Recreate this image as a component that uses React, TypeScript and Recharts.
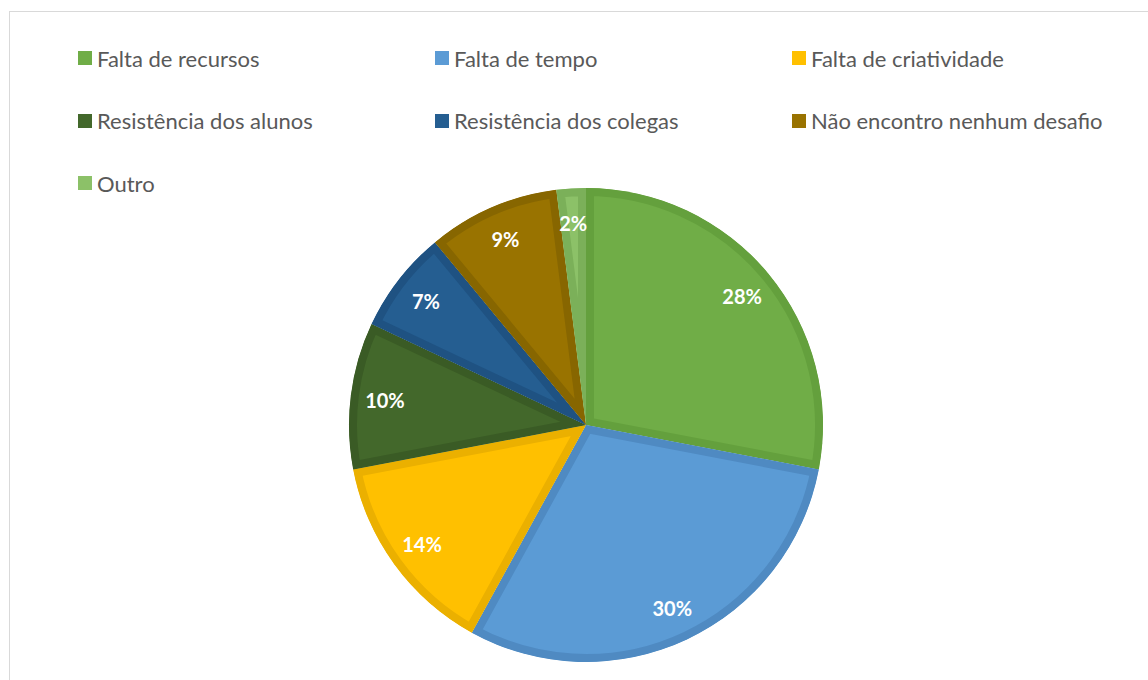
import React from 'react';
import { PieChart, Pie, Cell, Sector, Legend } from 'recharts';

const categories = [
  'Falta de recursos',
  'Falta de tempo',
  'Falta de criatividade',
  'Resistência dos alunos',
  'Resistência dos colegas',
  'Não encontro nenhum desafio',
  'Outro',
];
const values = [28, 30, 14, 10, 7, 9, 2];
const fills = ['#70AD47', '#5B9BD5', '#FFC000', '#43682B', '#255E91', '#997300', '#8CC168'];
const borders = ['#64A03D', '#4F8AC2', '#EBB000', '#3A5B25', '#1F5282', '#876600', '#7BB059'];

const data = categories.map((name, i) => ({ name, value: values[i] }));

const RADIAN = Math.PI / 180;
const FONT = 'Lato, "Open Sans", sans-serif';

// sector with the border drawn only on the inside (like Excel)
const InsetSector = (props: any) => {
  const idx = props.index ?? fills.indexOf(props.fill);
  const id = `clip-sector-${idx}`;
  return (
    <g>
      <defs>
        <clipPath id={id}>
          <Sector {...props} stroke="none" />
        </clipPath>
      </defs>
      <Sector
        {...props}
        fill={fills[idx]}
        stroke={borders[idx]}
        strokeWidth={16}
        clipPath={`url(#${id})`}
      />
    </g>
  );
};

const renderLabel = (props: any) => {
  const { cx, cy, midAngle, outerRadius, value } = props;
  const r = outerRadius * 0.855;
  const x = cx + r * Math.cos(-midAngle * RADIAN);
  const y = cy + r * Math.sin(-midAngle * RADIAN);
  return (
    <text
      x={x}
      y={y}
      fill="#ffffff"
      textAnchor="middle"
      dominantBaseline="central"
      fontFamily={FONT}
      fontWeight="bold"
      fontSize={20}
    >
      {`${value}%`}
    </text>
  );
};

const LegendContent = () => (
  <div style={{ position: 'relative', width: 1148, height: 200 }}>
    {categories.map((name, i) => (
      <div
        key={name}
        style={{
          position: 'absolute',
          left: 78 + (i % 3) * 357,
          top: 58 + Math.floor(i / 3) * 62.5 - 14,
          height: 28,
          display: 'flex',
          alignItems: 'center',
          fontFamily: FONT,
          fontSize: 22,
          color: '#595959',
          whiteSpace: 'nowrap',
        }}
      >
        <span
          style={{
            display: 'inline-block',
            width: 14,
            height: 14,
            background: fills[i],
            marginRight: 5,
          }}
        />
        {name}
      </div>
    ))}
  </div>
);

export default function App() {
  return (
    <div
      style={{
        position: 'absolute',
        left: 0,
        top: 0,
        width: 1148,
        height: 680,
        overflow: 'hidden',
        background: '#ffffff',
      }}
    >
      <div
        style={{
          position: 'absolute',
          left: 9,
          top: 11,
          width: 1200,
          height: 700,
          border: '1px solid #D9D9D9',
        }}
      />
      <div style={{ position: 'absolute', left: 0, top: 0 }}>
        <PieChart width={1148} height={680} margin={{ top: 0, right: 0, bottom: 0, left: 0 }}>
          <Legend
            layout="horizontal"
            verticalAlign="middle"
            align="center"
            wrapperStyle={{ top: 0, left: 0, width: 1148 }}
            content={<LegendContent />}
          />
          <Pie
            data={data}
            dataKey="value"
            nameKey="name"
            cx={586}
            cy={425}
            outerRadius={237}
            startAngle={90}
            endAngle={-270}
            stroke="none"
            label={renderLabel}
            labelLine={false}
            shape={InsetSector}
            activeShape={InsetSector}
            inactiveShape={InsetSector}
            isAnimationActive={false}
          >
            {data.map((d, i) => (
              <Cell key={d.name} fill={fills[i]} />
            ))}
          </Pie>
        </PieChart>
      </div>
    </div>
  );
}
